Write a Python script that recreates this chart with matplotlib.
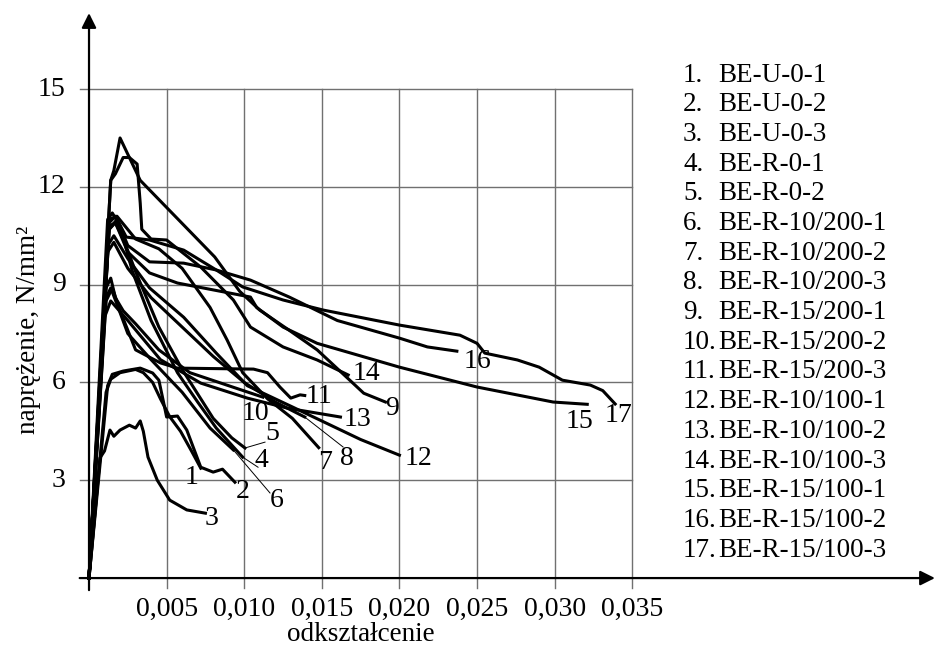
import matplotlib
matplotlib.use("Agg")
import matplotlib.pyplot as plt

plt.rcParams["font.family"] = ["Liberation Serif", "DejaVu Serif"]

# stress-strain curves (strain [-], stress [N/mm2])
e1 = [0, 0.0011, 0.0014, 0.0020, 0.0030, 0.0035, 0.0041, 0.0046, 0.0052, 0.0059, 0.0066, 0.0072]
s1 = [0, 5.7, 6.1, 6.3, 6.4, 6.3, 6.0, 5.5, 4.95, 4.5, 3.9, 3.37]
e2 = [0, 0.0012, 0.0015, 0.0022, 0.0033, 0.0041, 0.0045, 0.0048, 0.0050, 0.0057, 0.0063, 0.0072, 0.0080, 0.0086, 0.0094]
s2 = [0, 5.9, 6.25, 6.35, 6.44, 6.29, 6.07, 5.4, 4.94, 4.97, 4.54, 3.4, 3.25, 3.34, 2.94]
e3 = [0, 0.0007, 0.0010, 0.00135, 0.0016, 0.0020, 0.0026, 0.0030, 0.0033, 0.0035, 0.0038, 0.0044, 0.0052, 0.0063, 0.0075]
s3 = [0, 3.68, 3.9, 4.54, 4.35, 4.54, 4.69, 4.6, 4.82, 4.5, 3.71, 3.0, 2.39, 2.09, 1.99]
e4 = [0, 0.0012, 0.0015, 0.0020, 0.0028, 0.0040, 0.0057, 0.0070, 0.0082, 0.0099]
s4 = [0, 11.0, 11.2, 10.8, 9.4, 7.9, 6.3, 5.4, 4.6, 3.71]
e5 = [0, 0.0013, 0.0017, 0.0023, 0.0030, 0.0045, 0.0060, 0.0080, 0.0092, 0.01005]
s5 = [0, 10.7, 10.9, 10.3, 9.4, 7.7, 6.4, 4.9, 4.3, 3.99]
e6 = [0, 0.0011, 0.0014, 0.0018, 0.0025, 0.0040, 0.0060, 0.0078, 0.0093]
s6 = [0, 8.6, 8.9, 8.4, 7.5, 6.7, 5.7, 4.6, 3.93]
e7 = [0, 0.0013, 0.0018, 0.0030, 0.0045, 0.0060, 0.0078, 0.0089, 0.0099, 0.0115, 0.0131, 0.0148]
s7 = [0, 11.0, 11.1, 10.4, 10.1, 9.5, 8.3, 7.3, 6.3, 5.5, 4.9, 4.0]
e8 = [0, 0.0012, 0.0016, 0.0025, 0.0040, 0.0060, 0.0080, 0.0100, 0.0120, 0.0139]
s8 = [0, 10.0, 10.3, 9.5, 8.6, 7.7, 6.8, 6.0, 5.4, 4.94]
e9 = [0, 0.0014, 0.0016, 0.0020, 0.0025, 0.0030, 0.0033, 0.0081, 0.0097, 0.0110, 0.0129, 0.0147, 0.0168, 0.0177, 0.0191]
s9 = [0, 12.2, 12.5, 13.5, 13.0, 12.5, 12.2, 9.85, 8.8, 8.22, 7.6, 7.0, 6.07, 5.67, 5.4]
e10 = [0, 0.0011, 0.0014, 0.0017, 0.0022, 0.0030, 0.0045, 0.0065, 0.0090, 0.0112]
s10 = [0, 8.9, 9.2, 8.6, 8.2, 7.8, 7.0, 6.3, 5.9, 5.55]
e11 = [0, 0.0011, 0.0015, 0.0020, 0.0030, 0.0046, 0.0057, 0.0106, 0.0115, 0.0123, 0.0130, 0.0136, 0.0139]
s11 = [0, 8.5, 8.9, 8.2, 7.0, 6.6, 6.44, 6.41, 6.3, 5.86, 5.52, 5.62, 5.6]
e12 = [0, 0.0012, 0.0016, 0.0025, 0.0039, 0.0061, 0.0082, 0.0102, 0.0131, 0.0153, 0.0175, 0.0200]
s12 = [0, 10.2, 10.5, 9.8, 8.9, 8.0, 6.9, 5.9, 5.25, 4.75, 4.25, 3.77]
e13 = [0, 0.0010, 0.0014, 0.0025, 0.0046, 0.0072, 0.0102, 0.0128, 0.0162]
s13 = [0, 8.0, 8.5, 7.9, 6.7, 5.98, 5.52, 5.21, 4.94]
e14 = [0, 0.0014, 0.0017, 0.0022, 0.0026, 0.0031, 0.0033, 0.0034, 0.0040, 0.0050, 0.0072, 0.0093, 0.0104, 0.0125, 0.0147, 0.0167]
s14 = [0, 12.2, 12.4, 12.9, 12.9, 12.7, 11.5, 10.7, 10.4, 10.37, 9.54, 8.53, 7.7, 7.09, 6.69, 6.23]
e15 = [0, 0.0013, 0.0017, 0.0025, 0.0039, 0.0057, 0.0104, 0.0108, 0.0125, 0.0147, 0.0200, 0.0250, 0.0299, 0.0321]
s15 = [0, 10.8, 10.9, 10.0, 9.36, 9.05, 8.62, 8.3, 7.7, 7.2, 6.47, 5.86, 5.4, 5.33]
e16 = [0, 0.0013, 0.0018, 0.0025, 0.0039, 0.0061, 0.0082, 0.0104, 0.0129, 0.0160, 0.0200, 0.0218, 0.0237]
s16 = [0, 10.7, 11.0, 10.2, 9.7, 9.66, 9.45, 9.14, 8.62, 7.9, 7.36, 7.09, 6.96]
e17 = [0, 0.0013, 0.0017, 0.0024, 0.0039, 0.0061, 0.0082, 0.0099, 0.0125, 0.0151, 0.0200, 0.0239, 0.0250, 0.0255,
       0.0276, 0.0290, 0.0305, 0.0323, 0.0331, 0.0339]
s17 = [0, 10.9, 11.1, 10.46, 10.37, 10.06, 9.45, 8.93, 8.53, 8.22, 7.76, 7.45, 7.2, 6.9,
       6.69, 6.47, 6.07, 5.92, 5.75, 5.34]

specimens = ["BE-U-0-1", "BE-U-0-2", "BE-U-0-3", "BE-R-0-1", "BE-R-0-2",
             "BE-R-10/200-1", "BE-R-10/200-2", "BE-R-10/200-3",
             "BE-R-15/200-1", "BE-R-15/200-2", "BE-R-15/200-3",
             "BE-R-10/100-1", "BE-R-10/100-2", "BE-R-10/100-3",
             "BE-R-15/100-1", "BE-R-15/100-2", "BE-R-15/100-3"]

x_ticks = [0.005, 0.010, 0.015, 0.020, 0.025, 0.030, 0.035]
x_tick_labels = ["0,005", "0,010", "0,015", "0,020", "0,025", "0,030", "0,035"]
y_ticks = [3, 6, 9, 12, 15]

# where the curve numbers sit (and the thin leader ends for some of them)
label_pos = [(0.0066, 3.07), (0.0099, 2.64), (0.0079, 1.84), (0.0111, 3.62), (0.0118, 4.42),
             (0.0121, 2.39), (0.0152, 3.56), (0.0166, 3.68), (0.0195, 5.2), (0.0107, 5.06),
             (0.0148, 5.56), (0.0212, 3.68), (0.0173, 4.85), (0.0179, 6.26), (0.0316, 4.8),
             (0.0250, 6.63), (0.0341, 5.0)]
leaders = {4: (0.01089, 3.40), 5: (0.01134, 4.17), 6: (0.01166, 2.61), 8: (0.01637, 4.02)}

curves = [(e1, s1), (e2, s2), (e3, s3), (e4, s4), (e5, s5), (e6, s6), (e7, s7), (e8, s8), (e9, s9),
          (e10, s10), (e11, s11), (e12, s12), (e13, s13), (e14, s14), (e15, s15), (e16, s16), (e17, s17)]

fig = plt.figure(figsize=(9.36, 6.52), dpi=100)
# axes placed so that origin sits at ~(89, 578) px
ax = fig.add_axes([0.0752, 0.0834, 0.9248, 0.905])
ax.set_xlim(-0.0012, 0.05457)
ax.set_ylim(-0.6, 17.5)
ax.axis("off")

grid_kw = dict(color="#707070", lw=1.0, zorder=1)
for xt in x_ticks:
    ax.plot([xt, xt], [-0.3, 15], **grid_kw)
for yt in y_ticks:
    ax.plot([-0.0006, 0.035], [yt, yt], **grid_kw)

# axes with arrows
arrow_kw = dict(arrowstyle="-|>", color="black", lw=1.6, mutation_scale=22, shrinkA=0, shrinkB=0)
ax.annotate("", xy=(0.0545, 0), xytext=(-0.0006, 0), arrowprops=arrow_kw, zorder=3)
ax.annotate("", xy=(0, 17.33), xytext=(0, -0.37), arrowprops=arrow_kw, zorder=3)

for xt, lab in zip(x_ticks, x_tick_labels):
    ax.text(xt, -0.95, lab, ha="center", va="center", fontsize=20)
for yt in y_ticks:
    ax.text(-0.0015, yt, str(yt), ha="right", va="center", fontsize=20)

ax.text(0.0175, -1.72, "odkształcenie", ha="center", va="center", fontsize=19.5)
ax.text(-0.0039, 7.6, "naprężenie, N/mm²", ha="center", va="center", rotation=90, fontsize=19.5)

for i, (e, s) in enumerate(curves):
    ax.plot(e, s, color="black", lw=2.2, solid_joinstyle="round", zorder=2)
    num = i + 1
    if num in leaders:
        ax.plot([e[-1], leaders[num][0]], [s[-1], leaders[num][1]], color="black", lw=0.7, zorder=2)
    lx, ly = label_pos[i]
    ax.text(lx, ly, str(num), ha="center", va="center", fontsize=20, zorder=4)

# specimen list on the right
for i, name in enumerate(specimens):
    yy = 1 - (75 + 29.7 * i) / 652
    fig.text(683 / 936, yy, f"{i + 1}.", ha="left", va="center", fontsize=19.5)
    fig.text(718 / 936, yy, name, ha="left", va="center", fontsize=19.5)

fig.savefig("out.png", dpi=100)
